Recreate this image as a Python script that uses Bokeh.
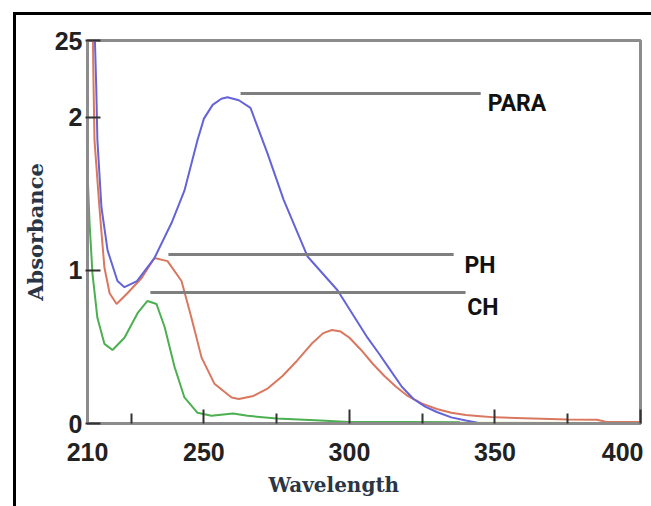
from bokeh.plotting import figure
from bokeh.models import FixedTicker, Title, InlineStyleSheet
from bokeh.core.properties import value
from bokeh.embed import file_html
from bokeh.resources import INLINE

# ---- data ----
wl_para = [212.4, 213.0, 213.4, 214.8, 216.9, 220.3, 222.7, 227.0, 233.0, 238.9, 243.3, 247.8,
           250.0, 253.0, 256.0, 258.1, 262.0, 266.0, 271.9, 277.4, 285.6, 295.9, 306.2, 310.0,
           314.0, 318.0, 322.0, 326.0, 330.0, 335.0, 340.0, 344.0]
abs_para = [2.60, 2.20, 1.85, 1.41, 1.13, 0.93, 0.89, 0.93, 1.08, 1.31, 1.52, 1.85,
            1.99, 2.08, 2.12, 2.13, 2.11, 2.06, 1.76, 1.46, 1.09, 0.87, 0.56, 0.46,
            0.35, 0.24, 0.16, 0.11, 0.075, 0.04, 0.02, 0.005]

wl_ph = [211.8, 212.0, 212.4, 214.1, 215.8, 217.6, 220.0, 223.7, 228.6, 233.0, 237.5, 242.3,
         245.7, 249.2, 253.6, 259.5, 262.0, 267.0, 272.0, 277.0, 282.0, 287.0, 291.0, 294.0,
         297.0, 300.0, 304.0, 308.0, 312.0, 316.0, 320.0, 325.0, 330.0, 335.0, 340.0, 345.0,
         350.0, 360.0, 375.0, 385.0, 388.0, 400.0]
abs_ph = [2.60, 2.30, 1.85, 1.41, 1.02, 0.85, 0.78, 0.85, 0.95, 1.08, 1.06, 0.93,
          0.69, 0.43, 0.26, 0.17, 0.16, 0.18, 0.23, 0.31, 0.41, 0.52, 0.59, 0.61,
          0.60, 0.56, 0.48, 0.39, 0.31, 0.24, 0.18, 0.13, 0.095, 0.07, 0.055, 0.048,
          0.04, 0.035, 0.026, 0.024, 0.012, 0.01]

wl_ch = [210.0, 210.7, 211.7, 213.4, 215.8, 218.6, 222.7, 227.2, 230.6, 233.7, 236.5, 239.9,
         243.3, 247.8, 252.6, 260.0, 265.0, 275.0, 290.0, 299.7, 320.0, 338.0]
abs_ch = [1.65, 1.31, 0.98, 0.69, 0.52, 0.48, 0.56, 0.72, 0.80, 0.78, 0.63, 0.37,
          0.17, 0.07, 0.05, 0.065, 0.05, 0.033, 0.02, 0.01, 0.009, 0.008]

wl_base = [300.0, 338.0, 400.0]
abs_base = [0.006, 0.005, 0.004]

x_ticks = [210, 250, 300, 350, 400]
x_minor = [225, 275, 325, 375]
y_ticks = [0, 1, 2, 2.5]
y_labels = {0: "0", 1: "1", 2: "2", 2.5: "25"}

names = ["PARA", "PH", "CH"]
name_x = [347.5, 339.5, 340.5]
name_y = [2.09, 1.03, 0.757]
line_y = [2.154, 1.103, 0.855]
line_x0 = [262.6, 237.8, 231.6]
line_x1 = [345.1, 335.8, 339.9]

# ---- figure ----
p = figure(frame_width=553, frame_height=383, x_range=(210, 400), y_range=(0, 2.5),
           output_backend="svg", toolbar_location=None,
           min_border_left=87, min_border_right=3, min_border_top=40, min_border_bottom=83)
p.background_fill_color = "white"
p.border_fill_color = "white"
p.xgrid.visible = False
p.ygrid.visible = False
p.outline_line_color = "#8c8c8c"
p.outline_line_width = 3

ax = p.xaxis[0]
ax.ticker = FixedTicker(ticks=x_ticks, minor_ticks=x_minor)
ax.major_tick_in = 14
ax.major_tick_out = 0
ax.minor_tick_in = 10
ax.minor_tick_out = 0
ax.major_tick_line_color = "#333333"
ax.minor_tick_line_color = "#333333"
ax.major_tick_line_width = 2
ax.minor_tick_line_width = 2
ax.axis_line_color = "#8c8c8c"
ax.axis_line_width = 3
ax.major_label_standoff = 19
ax.major_label_text_font = "Liberation Sans"
ax.major_label_text_font_style = "bold"
ax.major_label_text_font_size = "25px"
ax.major_label_text_color = "#222222"

ay = p.yaxis[0]
ay.ticker = FixedTicker(ticks=y_ticks)
ay.major_label_overrides = y_labels
ay.major_tick_in = 13
ay.major_tick_out = 2
ay.minor_tick_line_color = None
ay.major_tick_line_color = "#333333"
ay.major_tick_line_width = 2
ay.axis_line_color = "#8c8c8c"
ay.axis_line_width = 3
ay.major_label_standoff = 3
ay.major_label_text_font = "Liberation Sans"
ay.major_label_text_font_style = "bold"
ay.major_label_text_font_size = "25px"
ay.major_label_text_color = "#222222"

# curves
p.line(wl_base, abs_base, line_color="#c8e07a", line_width=2)
p.line(wl_ch, abs_ch, line_color="#4caf50", line_width=2)
p.line(wl_ph, abs_ph, line_color="#d9775f", line_width=2)
p.line(wl_para, abs_para, line_color="#6464d8", line_width=2)

# pointer lines and labels
p.segment(x0=line_x0, y0=line_y, x1=line_x1, y1=line_y, line_color="#7f7f7f", line_width=3)
p.text(x=name_x, y=name_y, text=names, text_font=value("Roboto"),
       text_font_style="bold", text_font_size="23px", text_color="#111111",
       text_align="left", text_baseline="middle")

# axis titles
p.add_layout(Title(text="Wavelength", align="left", offset=181, standoff=15,
                   text_font="DejaVu Serif", text_font_style="bold", text_font_size="20px",
                   text_color="#2a3545"), "below")
p.add_layout(Title(text="Absorbance", align="center", standoff=8,
                   text_font="DejaVu Serif", text_font_style="bold", text_font_size="21px",
                   text_color="#2a3545"), "left")

# outer black frame (left and top edges only)
p.stylesheets = [InlineStyleSheet(css=(
    ":host::after {content:''; position:absolute; left:13px; top:12px; right:-20px; bottom:-20px;"
    " border-left:3px solid black; border-top:3px solid black; pointer-events:none;}"))]

open("out.html", "w").write(file_html(p, INLINE))
